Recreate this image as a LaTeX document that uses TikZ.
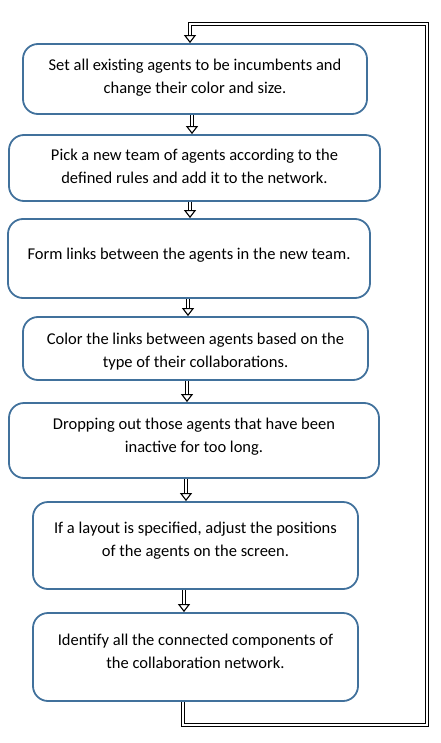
\documentclass[tikz,border=0pt]{standalone}
\usepackage{fontspec}
\setmainfont{Carlito}
\usetikzlibrary{arrows.meta}
\definecolor{boxblue}{RGB}{65,113,156}
\newcommand\boxtext[2]{\raisebox{#1}[0pt][0pt]{\begin{tabular}{@{}c@{}}#2\end{tabular}}}

\begin{document}
\begin{tikzpicture}[x=1pt,y=-1pt,
    stepbox/.style={draw=boxblue,line width=1.8pt,rounded corners=15pt,
      font=\fontsize{16.5}{23}\selectfont,inner sep=0pt},
    flow/.style={draw=black,line width=1.1pt,double=white,double distance=2.4pt},
    hollow/.style={flow,-{Triangle[open,width=12pt,length=8pt]}}
  ]
    \useasboundingbox (0,0) rectangle (440,743);
    \node[stepbox,minimum width=344pt,minimum height=70pt] (b1) at (195,79)
      {\boxtext{-2.5pt}{Set all existing agents to be incumbents and\\change their color and size.}};
    \node[stepbox,minimum width=371pt,minimum height=66pt] (b2) at (194.5,168)
      {\boxtext{-4pt}{Pick a new team of agents according to the\\defined rules and add it to the network.}};
    \node[stepbox,minimum width=362pt,minimum height=79pt] (b3) at (189,258.5)
      {\boxtext{-1pt}{Form links between the agents in the new team.}};
    \node[stepbox,minimum width=345pt,minimum height=63pt] (b4) at (195.5,348.5)
      {\boxtext{-7pt}{Color the links between agents based on the\\type of their collaborations.}};
    \node[stepbox,minimum width=370pt,minimum height=75pt] (b5) at (194,440.5)
      {\boxtext{-0.5pt}{Dropping out those agents that have been\\inactive for too long.}};
    \node[stepbox,minimum width=325pt,minimum height=87pt] (b6) at (195.5,545.5)
      {\boxtext{0.5pt}{If a layout is specified, adjust the positions\\of the agents on the screen.}};
    \node[stepbox,minimum width=325pt,minimum height=88pt] (b7) at (195.5,657)
      {\boxtext{0pt}{Identify all the connected components of\\the collaboration network.}};

    \draw[hollow] ([xshift=-3pt]b1.south) -- ([xshift=-3pt]b1.south |- b2.north);
    \draw[hollow] ([xshift=-4.5pt]b2.south) -- ([xshift=-4.5pt]b2.south |- b3.north);
    \draw[hollow] ([xshift=-1pt]b3.south) -- ([xshift=-1pt]b3.south |- b4.north);
    \draw[hollow] ([xshift=-8.5pt]b4.south) -- ([xshift=-8.5pt]b4.south |- b5.north);
    \draw[hollow] ([xshift=-8pt]b5.south) -- ([xshift=-8pt]b5.south |- b6.north);
    \draw[hollow] ([xshift=-11.5pt]b6.south) -- ([xshift=-11.5pt]b6.south |- b7.north);

    % back to the first step
    \coordinate (c1) at (427,725);
    \coordinate (c2) at (427,24);
    \draw[hollow] ([xshift=-12.5pt]b7.south) |- (c1) -- (c2) -| ([xshift=-5pt]b1.north);
\end{tikzpicture}
\end{document}
